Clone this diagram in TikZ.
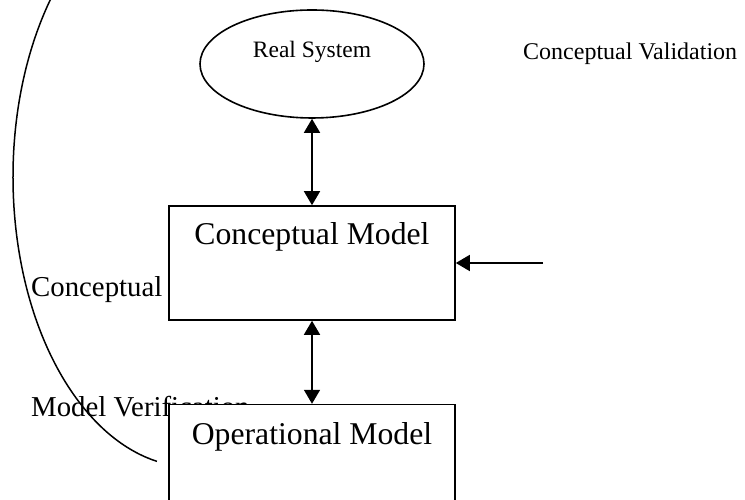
\documentclass[tikz,border=0pt]{standalone}
\usepackage{fontspec}
\setmainfont{Liberation Serif}
\usetikzlibrary{positioning,shapes,arrows.meta}
\tikzstyle{line}=[line width=1.6pt]
\tikzstyle{model}=[draw, line, rectangle, fill=white, minimum width=286pt, inner sep=0pt, font=\fontsize{31.7}{36}\selectfont]
\tikzstyle{system}=[draw, line, ellipse, minimum width=224pt, minimum height=108pt, inner sep=0pt, text height=12pt, text depth=24pt, font=\fontsize{23.5}{28}\selectfont]
\tikzstyle{lbl}=[anchor=base west, inner sep=0pt, font=\fontsize{28.8}{34}\selectfont]
\tikzstyle{onetip}=[line, -{Triangle[length=14pt,width=16pt]}]
\tikzstyle{twotip}=[line, {Triangle[length=14pt,width=16pt]}-{Triangle[length=14pt,width=16pt]}]

\begin{document}
\begin{tikzpicture}[x=1pt, y=1pt]
            \useasboundingbox (0,0) rectangle (745,500);
            \clip (0,0) rectangle (745,500);

            % labels
            \node[lbl, font=\fontsize{24}{29}\selectfont] (valid) at (523,440) {Conceptual Validation};
            \node[lbl] (conc) at (31,203) {Conceptual};
            \node[lbl] (verif) at (31,83) {Model Verification};

            % big arc on the left
            \coordinate (arcstart) at (192,323);
            \draw[line width=1.5pt] ([shift={(140:179 and 290)}]arcstart) arc[start angle=140, end angle=258.7, x radius=179, y radius=290];

            \node[system] (real) at (312,436) {Real System};
            \node[model, text height=39pt, text depth=75pt] (concept) at (312,237) {Conceptual Model};
            \node[model, text height=40pt, text depth=74pt, below=83pt of concept] (oper) {Operational Model};

            \coordinate (valsrc) at (543,237);

            \draw[twotip] (real) -- (concept);
            \draw[twotip] (concept) -- (oper);
            \draw[onetip] (valsrc) -- (concept);
        \end{tikzpicture}
\end{document}
